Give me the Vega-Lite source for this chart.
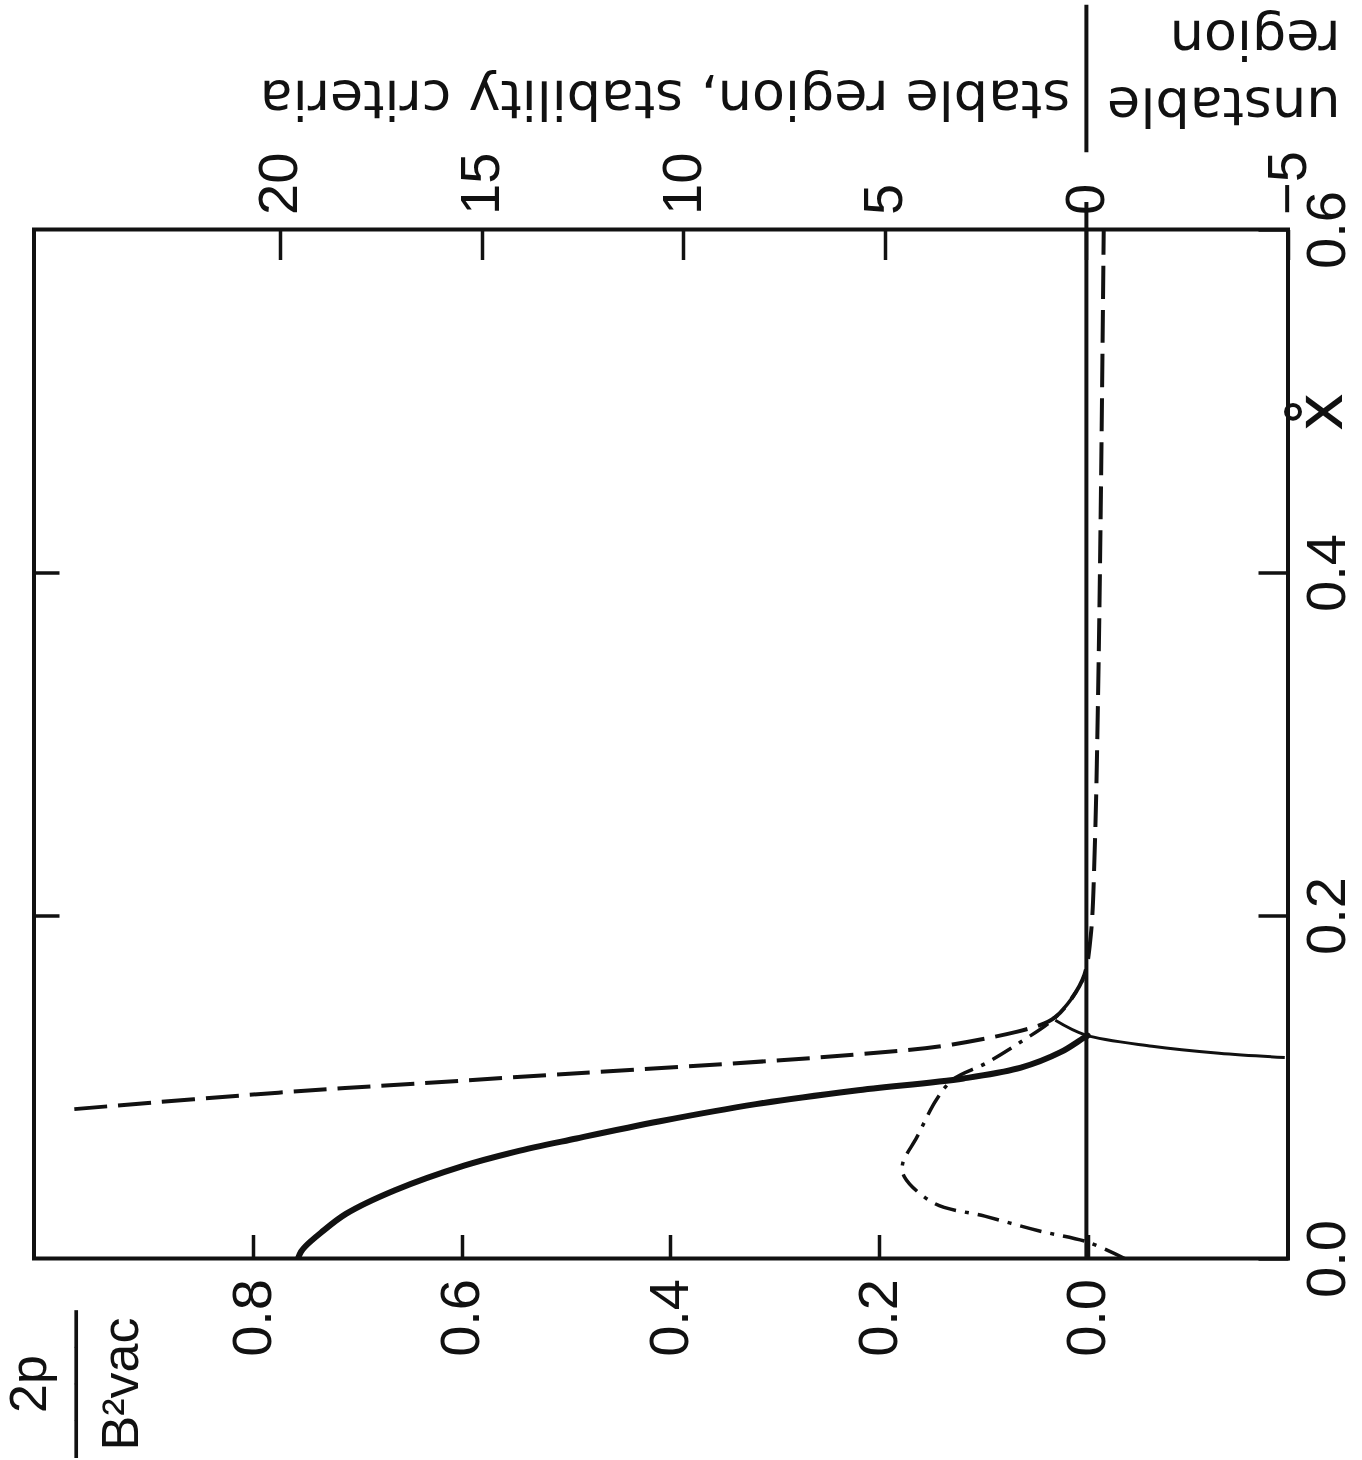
{
  "$schema": "https://vega.github.io/schema/vega-lite/v6.json",
  "width": 1254,
  "height": 1029,
  "autosize": {"type": "none"},
  "padding": {"left": 34, "top": 229.5, "right": 74, "bottom": 201.5},
  "background": "white",
  "config": {
    "view": {"stroke": "#111", "strokeWidth": 4},
    "axis": {
      "grid": false,
      "domain": false,
      "labelFont": "Liberation Sans, sans-serif",
      "labelFontSize": 56,
      "labelColor": "#111",
      "labelFlush": false,
      "labelOverlap": false,
      "tickColor": "#111",
      "tickWidth": 3.5,
      "titleFont": "DejaVu Sans",
      "titleFontWeight": "normal",
      "titleColor": "#111",
      "titleLimit": 2000
    }
  },
  "datasets": {
    "pressure": [
      {"xt": 0.0, "p": 0.757},
      {"xt": 0.004, "p": 0.754},
      {"xt": 0.007, "p": 0.750},
      {"xt": 0.015, "p": 0.735},
      {"xt": 0.026, "p": 0.711},
      {"xt": 0.0398, "p": 0.664},
      {"xt": 0.0543, "p": 0.597},
      {"xt": 0.0622, "p": 0.549},
      {"xt": 0.070, "p": 0.490},
      {"xt": 0.080, "p": 0.410},
      {"xt": 0.090, "p": 0.318},
      {"xt": 0.0978, "p": 0.224},
      {"xt": 0.105, "p": 0.119},
      {"xt": 0.1113, "p": 0.064},
      {"xt": 0.1203, "p": 0.026},
      {"xt": 0.1286, "p": 0.004},
      {"xt": 0.130, "p": 0.0}
    ],
    "dashed": [
      {"xt": 0.0871, "crit": 25.1},
      {"xt": 0.0967, "crit": 20.04},
      {"xt": 0.1038, "crit": 15.43},
      {"xt": 0.1188, "crit": 5.78},
      {"xt": 0.1248, "crit": 3.32},
      {"xt": 0.1359, "crit": 1.17},
      {"xt": 0.1406, "crit": 0.78},
      {"xt": 0.1518, "crit": 0.36},
      {"xt": 0.1654, "crit": 0.05},
      {"xt": 0.1887, "crit": -0.11},
      {"xt": 0.2412, "crit": -0.21},
      {"xt": 0.3288, "crit": -0.29},
      {"xt": 0.4454, "crit": -0.36},
      {"xt": 0.600, "crit": -0.43}
    ],
    "dashdot": [
      {"xt": 0.0, "crit": -0.95},
      {"xt": 0.0096, "crit": -0.03},
      {"xt": 0.0163, "crit": 1.21},
      {"xt": 0.0247, "crit": 2.52},
      {"xt": 0.032, "crit": 3.76},
      {"xt": 0.0475, "crit": 4.51},
      {"xt": 0.055, "crit": 4.56},
      {"xt": 0.0709, "crit": 4.2},
      {"xt": 0.0926, "crit": 3.72},
      {"xt": 0.1044, "crit": 3.31},
      {"xt": 0.1139, "crit": 2.49},
      {"xt": 0.1258, "crit": 1.66},
      {"xt": 0.1389, "crit": 0.85},
      {"xt": 0.1518, "crit": 0.36},
      {"xt": 0.1642, "crit": 0.05}
    ],
    "thin": [
      {"xt": 0.1389, "crit": 0.77},
      {"xt": 0.1304, "crit": 0.03},
      {"xt": 0.1238, "crit": -1.63},
      {"xt": 0.1197, "crit": -3.29},
      {"xt": 0.1172, "crit": -4.92}
    ],
    "rules": [
      {"crit": 0, "xt": 0, "xt2": 0.616},
      {"crit": 0, "xt": 0.645, "xt2": 0.731}
    ]
  },
  "resolve": {"scale": {"x": "independent"}, "axis": {"x": "independent", "y": "independent"}},
  "layer": [
    {
      "data": {"name": "pressure"},
      "mark": {"type": "line", "color": "#111", "strokeWidth": 6, "strokeCap": "round", "strokeJoin": "round", "interpolate": "catmull-rom", "clip": true},
      "encoding": {
        "x": {
          "field": "p", "type": "quantitative",
          "scale": {"domain": [-0.192, 1.01], "reverse": true, "nice": false, "zero": false},
          "axis": {
            "orient": "bottom",
            "values": [0, 0.2, 0.4, 0.6, 0.8],
            "format": ".1f",
            "labelAngle": 270,
            "labelAlign": "right",
            "labelBaseline": "middle",
            "tickSize": -24,
            "labelPadding": 44,
            "title": ["2p", "────", "B²vac"],
            "titleFont": "Liberation Sans",
            "titleAngle": 270,
            "titleAlign": "center",
            "titleBaseline": "top",
            "titleX": -30,
            "titleY": 125,
            "titleFontSize": 52,
            "titleLineHeight": 46
          }
        },
        "y": {
          "field": "xt", "type": "quantitative",
          "scale": {"domain": [0, 0.6], "nice": false, "zero": false},
          "axis": {
            "orient": "right",
            "values": [0, 0.2, 0.4, 0.6],
            "format": ".1f",
            "labelAngle": 270,
            "labelAlign": "center",
            "labelBaseline": "top",
            "tickSize": -30,
            "labelPadding": 42,
            "title": "x̊",
            "titleAngle": 270,
            "titleAlign": "center",
            "titleBaseline": "middle",
            "titleX": 33,
            "titleY": 182,
            "titleFontSize": 66
          }
        },
        "order": {"value": null}
      }
    },
    {
      "encoding": {
        "x": {
          "field": "crit", "type": "quantitative",
          "scale": {"domain": [-5, 26.1], "reverse": true, "nice": false, "zero": false},
          "axis": {
            "orient": "top",
            "values": [20, 15, 10, 5, 0, -5],
            "format": "d",
            "labelAngle": 270,
            "labelAlign": "left",
            "labelBaseline": "middle",
            "tickSize": -30,
            "labelPadding": 45,
            "title": "stable region, stability criteria",
            "titleAngle": 180,
            "titleAlign": "left",
            "titleBaseline": "alphabetic",
            "titleX": 1036,
            "titleY": -149.5,
            "titleFontSize": 54
          }
        },
        "y": {
          "field": "xt", "type": "quantitative",
          "scale": {"domain": [0, 0.6], "nice": false, "zero": false},
          "axis": {
            "orient": "left",
            "values": [0.2, 0.4],
            "labels": false,
            "tickSize": -25,
            "title": ["unstable", "region"],
            "titleAngle": 180,
            "titleAlign": "left",
            "titleBaseline": "alphabetic",
            "titleX": 1306,
            "titleY": -142.5,
            "titleFontSize": 54,
            "titleLineHeight": 67
          }
        }
      },
      "layer": [
        {
          "data": {"name": "dashed"},
          "mark": {"type": "line", "color": "#111", "strokeWidth": 4, "strokeDash": [33, 11], "interpolate": "catmull-rom", "clip": true},
          "encoding": {"order": {"value": null}}
        },
        {
          "data": {"name": "dashdot"},
          "mark": {"type": "line", "color": "#111", "strokeWidth": 3.5, "strokeDash": [22, 9, 4, 9], "interpolate": "catmull-rom", "clip": true},
          "encoding": {"order": {"value": null}}
        },
        {
          "data": {"name": "thin"},
          "mark": {"type": "line", "color": "#111", "strokeWidth": 3, "interpolate": "catmull-rom", "clip": true},
          "encoding": {"order": {"value": null}}
        },
        {
          "data": {"name": "rules"},
          "mark": {"type": "rule", "color": "#111", "strokeWidth": 4, "clip": false},
          "encoding": {
            "y2": {"field": "xt2"}
          }
        }
      ]
    }
  ]
}
